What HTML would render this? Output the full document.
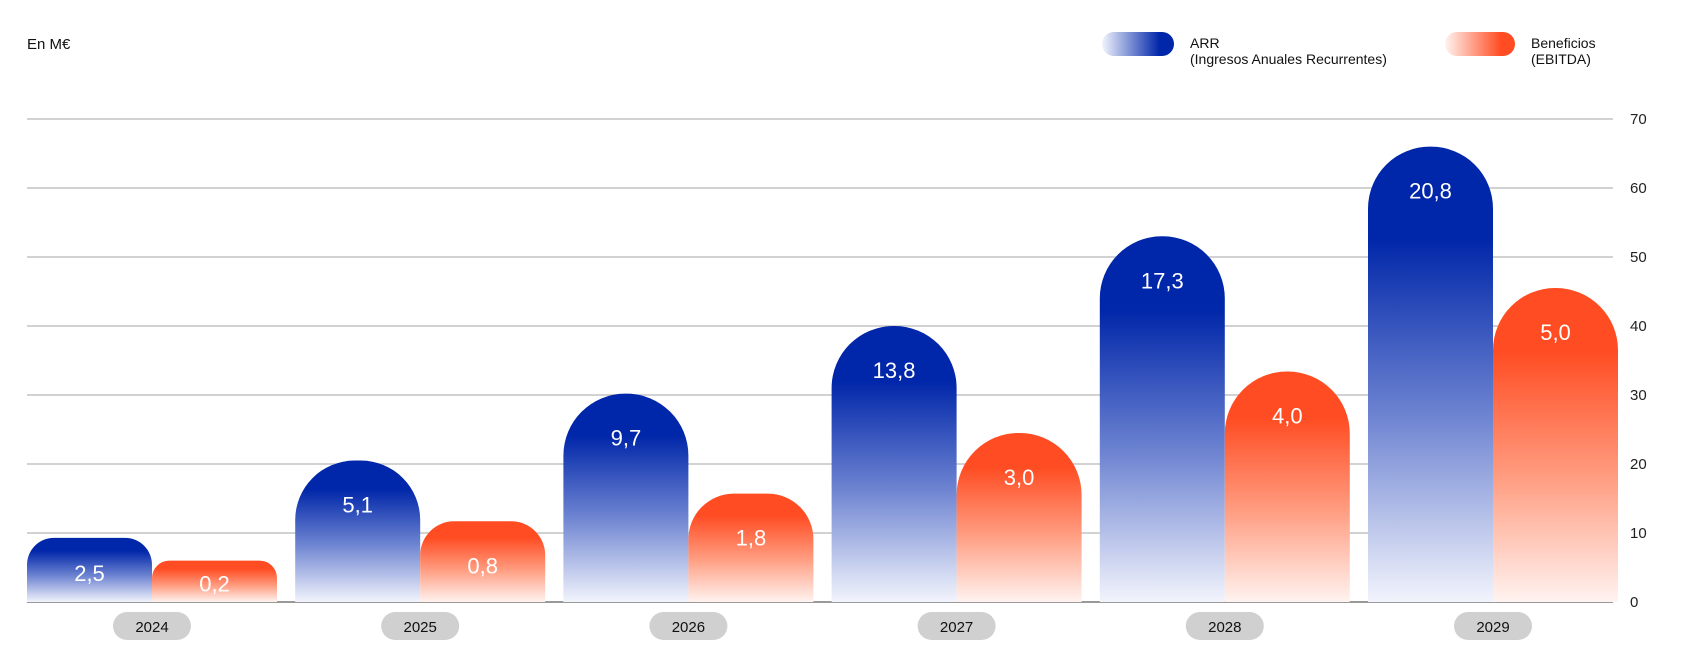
<!DOCTYPE html>
<html><head><meta charset="utf-8"><style>
body{margin:0;background:#fff;font-family:"Liberation Sans",sans-serif}
svg{display:block}
</style></head><body>
<svg id="chart" width="1681" height="660">
<defs>
<linearGradient id="gb" x1="0" y1="0" x2="0" y2="1"><stop offset="0.2" stop-color="#0026a9"/><stop offset="0.6" stop-color="#7086d2"/><stop offset="1" stop-color="#f2f4fc"/></linearGradient>
<linearGradient id="go" x1="0" y1="0" x2="0" y2="1"><stop offset="0.2" stop-color="#ff4c22"/><stop offset="0.6" stop-color="#ff9c80"/><stop offset="1" stop-color="#fff3f0"/></linearGradient>
<linearGradient id="lb" x1="0" y1="0" x2="1" y2="0"><stop offset="0" stop-color="#f2f4fc"/><stop offset="0.8" stop-color="#0026a9"/></linearGradient>
<linearGradient id="lo" x1="0" y1="0" x2="1" y2="0"><stop offset="0" stop-color="#fff3f0"/><stop offset="0.8" stop-color="#ff4c22"/></linearGradient>
</defs>
<text x="27" y="49" font-size="15" fill="#111">En M€</text>
<g>
<rect x="1102" y="32" width="72" height="24" rx="12" fill="url(#lb)"/>
<text x="1190" y="48" font-size="14" fill="#111">ARR</text>
<text x="1190" y="64" font-size="14" fill="#111">(Ingresos Anuales Recurrentes)</text>
</g>
<g>
<rect x="1445" y="32" width="70" height="24" rx="12" fill="url(#lo)"/>
<text x="1531" y="48" font-size="14" fill="#111">Beneficios</text>
<text x="1531" y="64" font-size="14" fill="#111">(EBITDA)</text>
</g>
<g id="grid"></g><g id="bars"></g>
</svg>
<script>
const years=["2024","2025","2026","2027","2028","2029"];
const arrHeights=[9.3,20.5,30.2,40,53,66];
const ebitdaHeights=[6,11.7,15.7,24.5,33.4,45.5];
const arrLabels=["2,5","5,1","9,7","13,8","17,3","20,8"];
const ebitdaLabels=["0,2","0,8","1,8","3,0","4,0","5,0"];
const ticks=[0,10,20,30,40,50,60,70];
const NS="http://www.w3.org/2000/svg";
const y0=602,y70=119;
const y=v=>y0-(y0-y70)*v/70;
const xc=i=>152+i*268.2;
const bw=125;
function mk(t,a,p){const e=document.createElementNS(NS,t);for(const k in a)e.setAttribute(k,a[k]);p.appendChild(e);return e;}
const grid=document.getElementById('grid'),bars=document.getElementById('bars');
ticks.forEach(t=>{
 const l=mk('line',{x1:27,x2:1613,y1:y(t),y2:y(t),stroke:t===0?'#999':'#c4c4c4','stroke-width':t===0?2:1.5},grid);
 
 
 const tx=mk('text',{x:1630,y:y(t)+5,'font-size':15,fill:'#222'},grid);tx.textContent=t;
 
 
});
function bar(x,v,fill,label,name){
 const top=y(v),h=y0-top,r=Math.min(62,h*0.42),ry=Math.min(62,h*0.42);
 const d=`M${x},${y0} L${x},${top+ry} A${r},${ry} 0 0 1 ${x+r},${top} L${x+bw-r},${top} A${r},${ry} 0 0 1 ${x+bw},${top+ry} L${x+bw},${y0} Z`;
 const p=mk('path',{d:d,fill:fill},bars);
 
 
 const ly=h>100?top+52:top+h*0.55+8;
 const t=mk('text',{x:x+bw/2,y:ly,'text-anchor':'middle','font-size':22,fill:'#fff'},bars);t.textContent=label;
 
 
}
years.forEach((yr,i)=>{
 bar(xc(i)-bw,arrHeights[i],'url(#gb)',arrLabels[i],'bar-arr-'+yr);
 bar(xc(i),ebitdaHeights[i],'url(#go)',ebitdaLabels[i],'bar-ebitda-'+yr);
 const pr=mk('rect',{x:xc(i)-39,y:612,width:78,height:28,rx:14,fill:'#d0d0d0'},bars);
 
 
 const t=mk('text',{x:xc(i),y:632,'text-anchor':'middle','font-size':15,fill:'#111'},bars);t.textContent=yr;
 
 
});
</script>
</body></html>
